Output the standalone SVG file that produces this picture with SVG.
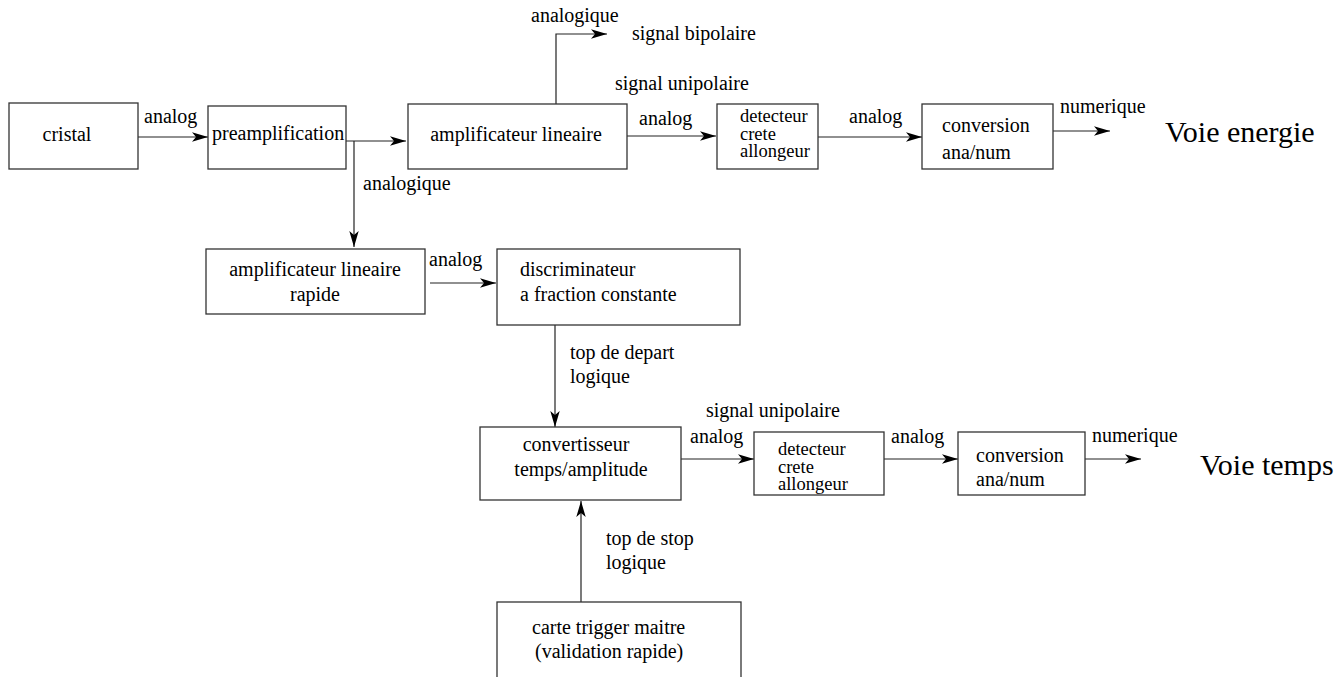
<svg xmlns="http://www.w3.org/2000/svg" width="1343" height="677" viewBox="0 0 1343 677" font-family="'Liberation Serif', 'Times New Roman', serif">
<defs>
<marker id="arr" markerUnits="userSpaceOnUse" markerWidth="17" markerHeight="11" refX="16" refY="5.5" orient="auto">
<path d="M0,0.8 L16,5.5 L0,10.2 L4,5.5 z" fill="#000"/>
</marker>
<style>
rect{fill:#fff;stroke:#333;stroke-width:1.3}
text{font-family:'Liberation Serif','Times New Roman',serif;font-size:20px;fill:#000}
.big{font-size:30px}
.c{text-anchor:middle}
.d{font-size:18.5px}
#connectors path,#connectors line{stroke:#222;stroke-width:1.2;fill:none}
.a{marker-end:url(#arr)}
</style>
</defs>
<rect x="0" y="0" width="1343" height="677" style="stroke:none;fill:#fff"/>
<g id="connectors">
<line class="a" x1="138" y1="137" x2="208" y2="137"/>
<line class="a" x1="346" y1="141" x2="406" y2="141"/>
<line class="a" x1="354" y1="141" x2="354" y2="247"/>
<path class="a" d="M556,104 V34 H607"/>
<line class="a" x1="627" y1="136" x2="716" y2="136"/>
<line class="a" x1="818" y1="137" x2="922" y2="137"/>
<line class="a" x1="1053" y1="131" x2="1110" y2="131"/>
<line class="a" x1="430" y1="283" x2="496" y2="283"/>
<line class="a" x1="555" y1="325" x2="555" y2="427"/>
<line class="a" x1="581" y1="602" x2="581" y2="501"/>
<line class="a" x1="681" y1="459" x2="754" y2="459"/>
<line class="a" x1="884" y1="459" x2="958" y2="459"/>
<line class="a" x1="1085" y1="459" x2="1141" y2="459"/>
</g>
<g id="labels">
<text x="144" y="123">analog</text>
<text x="363" y="190">analogique</text>
<text x="531" y="22">analogique</text>
<text x="632" y="40">signal bipolaire</text>
<text x="615" y="90">signal unipolaire</text>
<text x="639" y="125">analog</text>
<text x="849" y="123">analog</text>
<text x="1060" y="113">numerique</text>
<text class="big" x="1165" y="142">Voie energie</text>
<text x="429" y="266">analog</text>
<text x="570" y="359">top de depart</text>
<text x="570" y="383">logique</text>
<text x="706" y="417">signal unipolaire</text>
<text x="690" y="443">analog</text>
<text x="891" y="443">analog</text>
<text x="1092" y="442">numerique</text>
<text class="big" x="1200" y="475">Voie temps</text>
<text x="606" y="545">top de stop</text>
<text x="606" y="569">logique</text>
</g>
<g id="cristal"><rect x="9" y="103" width="129" height="66"/><text x="67" y="141" class="c">cristal</text></g>
<g id="preamp"><rect x="208" y="106" width="138" height="63"/><text x="212" y="140">preamplification</text></g>
<g id="amplin"><rect x="408" y="104" width="219" height="65"/><text x="516" y="141" class="c">amplificateur lineaire</text></g>
<g id="det1"><rect x="717" y="104" width="101" height="65"/><text class="d" x="740" y="122">detecteur</text><text class="d" x="740" y="139.5">crete</text><text class="d" x="740" y="157">allongeur</text></g>
<g id="conv1"><rect x="922" y="104" width="131" height="65"/><text x="942" y="132">conversion</text><text x="942" y="159">ana/num</text></g>
<g id="amprap"><rect x="206" y="249" width="219" height="65"/><text x="315" y="276" class="c">amplificateur lineaire</text><text x="315" y="301" class="c">rapide</text></g>
<g id="discri"><rect x="497" y="249" width="243" height="76"/><text x="520" y="276">discriminateur</text><text x="520" y="301">a fraction constante</text></g>
<g id="cta"><rect x="480" y="427" width="201" height="73"/><text x="576" y="451" class="c">convertisseur</text><text x="581" y="476" class="c">temps/amplitude</text></g>
<g id="det2"><rect x="754" y="432" width="130" height="63"/><text class="d" x="778" y="455">detecteur</text><text class="d" x="778" y="472.5">crete</text><text class="d" x="778" y="490">allongeur</text></g>
<g id="conv2"><rect x="958" y="432" width="127" height="63"/><text x="976" y="462">conversion</text><text x="976" y="486">ana/num</text></g>
<g id="trigger"><rect x="497" y="602" width="244" height="90"/><text x="532" y="634">carte trigger maitre</text><text x="535" y="658">(validation rapide)</text></g>
</svg>
